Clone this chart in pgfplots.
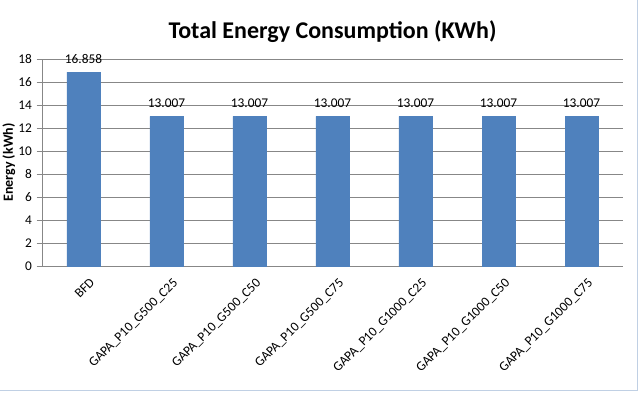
\documentclass[border=0pt]{standalone}
\usepackage{fontspec}
\setmainfont{Carlito}
\usepackage{pgfplots}
\pgfplotsset{compat=1.18}
\usetikzlibrary{calc}
\definecolor{barblue}{HTML}{4F81BD}
\definecolor{gridgray}{HTML}{878787}
\definecolor{framecol}{HTML}{C0D0E4}

\begin{document}
\begin{tikzpicture}[x=1pt,y=1pt]
  \begin{axis}[name=ax, scale only axis, width=435.75pt, height=155.25pt,
      ybar, bar width=24.75pt, ymin=0, ymax=18, ytick={0,2,...,18},
      xmin=-0.5, xmax=6.5, xtick={0,...,6},
      xticklabels={BFD,GAPA\_P10\_G500\_C25,GAPA\_P10\_G500\_C50,GAPA\_P10\_G500\_C75,GAPA\_P10\_G1000\_C25,GAPA\_P10\_G1000\_C50,GAPA\_P10\_G1000\_C75},
      xticklabel style={rotate=45, anchor=north east, font=\fontsize{10}{12}\selectfont, inner sep=1pt, xshift=1pt, yshift=-5pt},
      yticklabel style={font=\fontsize{10}{12}\selectfont},
      /pgf/number format/assume math mode=true,
      xtick style={draw=none},
      extra x ticks={-0.5,0.5,...,6.5}, extra x tick labels={},
      extra x tick style={grid=none, tick align=outside, major tick length=4pt, tick style={draw=gridgray}},
      ytick align=outside, major tick length=4pt,
      ytick style={draw=gridgray},
      axis x line*=bottom, axis y line*=left,
      axis line style={draw=gridgray, -},
      ymajorgrids, grid style={gridgray, line width=0.5pt},
      ylabel={\textbf{Energy (kWh)}}, ylabel style={font=\fontsize{10.5}{12}\selectfont, yshift=-4.5pt},
      title={\textbf{Total Energy Consumption (KWh)}},
      title style={font=\fontsize{18}{21}\selectfont, yshift=3pt},
      nodes near coords,
      every node near coord/.append style={font=\fontsize{10}{12}\selectfont, text=black, yshift=3pt,
        /pgf/number format/fixed, /pgf/number format/fixed zerofill, /pgf/number format/precision=3,
        /pgf/number format/assume math mode=true},
    ]
    \addplot[fill=barblue, draw=barblue] coordinates {
      (0,16.858) (1,13.007) (2,13.007) (3,13.007) (4,13.007) (5,13.007) (6,13.007)};
  \end{axis}
  \draw[framecol, line width=0.8pt] ($(ax.south west)+(-45pt,-93.5pt)$) rectangle ($(ax.south west)+(446.5pt,205pt)$);
  \pgfresetboundingbox
  \useasboundingbox ($(ax.south west)+(-31.5pt,-95.25pt)$) rectangle ($(ax.south west)+(448.5pt,199.5pt)$);
\end{tikzpicture}
\end{document}
